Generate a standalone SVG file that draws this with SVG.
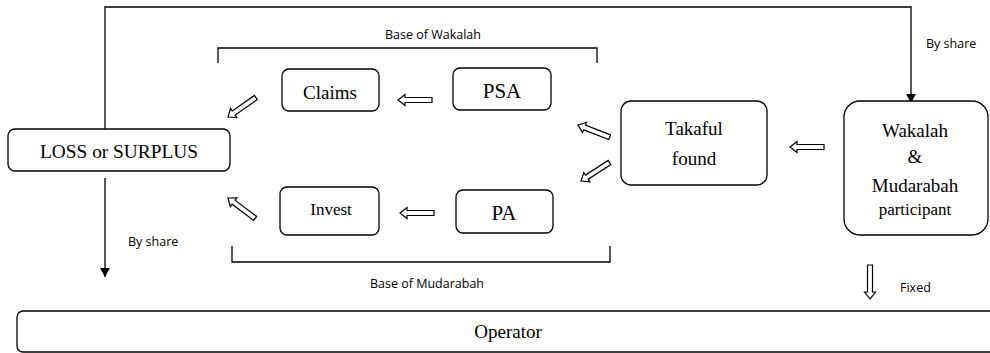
<svg xmlns="http://www.w3.org/2000/svg" width="990" height="353" viewBox="0 0 990 353">
<defs>
<style>
.box{fill:#fff;stroke:#000;stroke-width:1.3}
.ln{fill:none;stroke:#000;stroke-width:1.3}
.ha{fill:#fff;stroke:#000;stroke-width:1.2;stroke-linejoin:miter}
.serif{font-family:"Liberation Serif","Times New Roman",serif;font-size:19px;fill:#000;text-anchor:middle}
.sans{font-family:"Open Sans","Liberation Sans",sans-serif;font-size:12.5px;fill:#000}
</style>
<polygon id="harrow" points="0,0 7,-5.5 7,-2.5 34,-2.5 34,2.5 7,2.5 7,5.5"/>
<marker id="tri" markerWidth="10" markerHeight="10" refX="9" refY="5" orient="auto" markerUnits="userSpaceOnUse">
<path d="M0,0 L9,5 L0,10 Z" fill="#000"/>
</marker>
</defs>
<rect width="990" height="353" fill="#fff"/>

<g id="connectors">
<polyline class="ln" points="105,129 105,7 911,7 911,103" marker-end="url(#tri)"/>
<line class="ln" x1="105" y1="178" x2="105" y2="277" marker-end="url(#tri)"/>
<polyline class="ln" points="218,63 218,48 597,48 597,63"/>
<polyline class="ln" points="232,246 232,262 610,262 610,246"/>
<use href="#harrow" class="ha" transform="translate(398,100)"/>
<use href="#harrow" class="ha" transform="translate(400,213)"/>
<use href="#harrow" class="ha" transform="translate(790,147)"/>
<use href="#harrow" class="ha" transform="translate(228,117) rotate(-35)"/>
<use href="#harrow" class="ha" transform="translate(228,198) rotate(37)"/>
<use href="#harrow" class="ha" transform="translate(578,125) rotate(21)"/>
<use href="#harrow" class="ha" transform="translate(581,181) rotate(-33)"/>
<use href="#harrow" class="ha" transform="translate(870,299) rotate(-90)"/>
<text class="sans" x="433" y="39" text-anchor="middle">Base of Wakalah</text>
<text class="sans" x="427" y="288" text-anchor="middle">Base of Mudarabah</text>
<text class="sans" x="926" y="48">By share</text>
<text class="sans" x="128" y="246">By share</text>
<text class="sans" x="900" y="292">Fixed</text>
</g>

<g id="loss">
<rect class="box" x="8" y="129" width="222" height="42" rx="7"/>
<text class="serif" x="119" y="158" textLength="158" lengthAdjust="spacingAndGlyphs">LOSS or SURPLUS</text>
</g>
<g id="claims">
<rect class="box" x="282" y="69" width="97" height="42" rx="7"/>
<text class="serif" x="330" y="99">Claims</text>
</g>
<g id="psa">
<rect class="box" x="453" y="68" width="98" height="42" rx="7"/>
<text class="serif" x="502" y="98" style="font-size:21px">PSA</text>
</g>
<g id="invest">
<rect class="box" x="280" y="187" width="99" height="48" rx="7"/>
<text class="serif" x="331" y="215" style="font-size:17px">Invest</text>
</g>
<g id="pa">
<rect class="box" x="456" y="190" width="97" height="43" rx="7"/>
<text class="serif" x="504" y="220" style="font-size:21px">PA</text>
</g>
<g id="takaful">
<rect class="box" x="621" y="101" width="146" height="84" rx="10"/>
<text class="serif" x="694" y="135">Takaful</text>
<text class="serif" x="694" y="165">found</text>
</g>
<g id="wakalah">
<rect class="box" x="844" y="101" width="144" height="134" rx="16"/>
<text class="serif" x="915" y="137">Wakalah</text>
<text class="serif" x="915" y="163">&amp;</text>
<text class="serif" x="915" y="192">Mudarabah</text>
<text class="serif" x="915" y="215" style="font-size:17px">participant</text>
</g>
<g id="operator">
<rect class="box" x="17" y="311" width="990" height="41" rx="6"/>
<text class="serif" x="508" y="338">Operator</text>
</g>
</svg>
